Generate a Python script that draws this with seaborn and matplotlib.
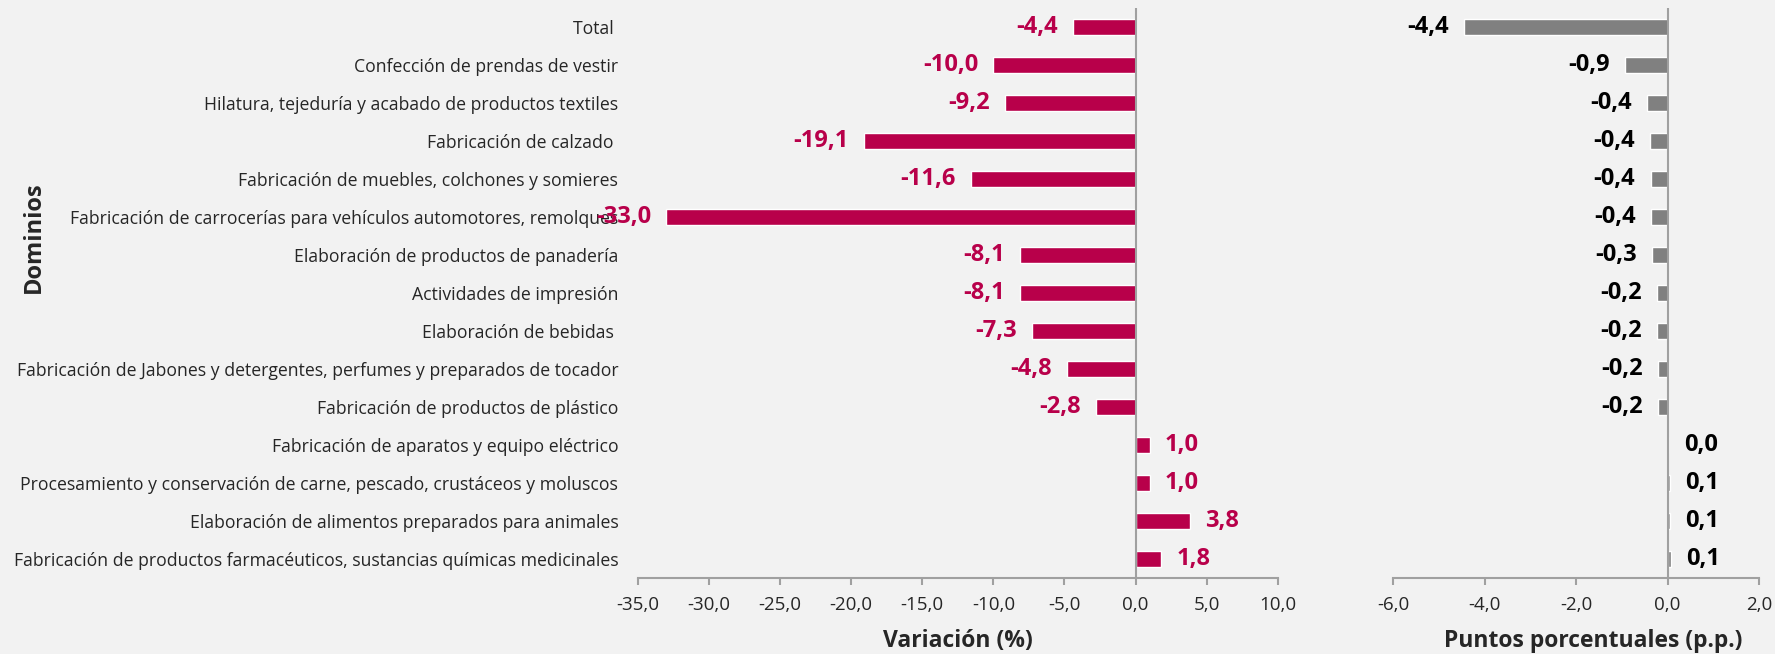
import matplotlib
matplotlib.use("Agg")
import matplotlib.pyplot as plt
import seaborn as sns
import pandas as pd
from matplotlib.ticker import FuncFormatter, MultipleLocator

# Data
dominios = [
    "Total ",
    "Confección de prendas de vestir",
    "Hilatura, tejeduría y acabado de productos textiles",
    "Fabricación de calzado ",
    "Fabricación de muebles, colchones y somieres",
    "Fabricación de carrocerías para vehículos automotores, remolques",
    "Elaboración de productos de panadería",
    "Actividades de impresión",
    "Elaboración de bebidas ",
    "Fabricación de Jabones y detergentes, perfumes y preparados de tocador",
    "Fabricación de productos de plástico",
    "Fabricación de aparatos y equipo eléctrico",
    "Procesamiento y conservación de carne, pescado, crustáceos y moluscos",
    "Elaboración de alimentos preparados para animales",
    "Fabricación de productos farmacéuticos, sustancias químicas medicinales",
]
variacion = [-4.4, -10.0, -9.2, -19.1, -11.6, -33.0, -8.1, -8.1, -7.3, -4.8, -2.8, 1.0, 1.0, 3.8, 1.8]
contribucion = [-4.44, -0.93, -0.44, -0.39, -0.37, -0.36, -0.33, -0.22, -0.22, -0.21, -0.21, 0.02, 0.06, 0.06, 0.07]

sns.set_style("white")
plt.rcParams["font.family"] = ["Open Sans", "DejaVu Sans"]

bg = "#F2F2F2"
crimson = "#B8004A"
grey_bar = "#808080"
axis_grey = "#A0A0A0"

df = pd.DataFrame({"dominio": dominios, "variacion": variacion, "contribucion": contribucion})

fmt = lambda v: f"{v:.1f}".replace(".", ",")

fig = plt.figure(figsize=(17.75, 6.54), dpi=100, facecolor=bg)
ax1 = fig.add_axes([0.3593, 0.1162, 0.3606, 0.8716], facecolor=bg)
ax2 = fig.add_axes([0.7848, 0.1162, 0.2062, 0.8716], facecolor=bg)

# Left: variación %
sns.barplot(data=df, x="variacion", y="dominio", orient="h", color=crimson,
            width=0.4, ax=ax1, saturation=1)
ax1.bar_label(ax1.containers[0], labels=[fmt(v) for v in variacion], padding=11,
              color=crimson, fontweight="bold", fontsize=17)
ax1.set_xlim(-35, 10)
ax1.xaxis.set_major_locator(MultipleLocator(5))

# Right: contribución en p.p.
sns.barplot(data=df, x="contribucion", y="dominio", orient="h", color=grey_bar,
            width=0.4, ax=ax2, saturation=1)
ax2.bar_label(ax2.containers[0], labels=[fmt(v) for v in contribucion], padding=11,
              color="black", fontweight="bold", fontsize=17)
ax2.set_xlim(-6, 2)
ax2.xaxis.set_major_locator(MultipleLocator(2))

for ax in (ax1, ax2):
    ax.set_ylim(14.5, -0.5)
    ax.xaxis.set_major_formatter(FuncFormatter(lambda v, p: fmt(v)))
    for s in ("top", "right", "left"):
        ax.spines[s].set_visible(False)
    ax.spines["bottom"].set_color(axis_grey)
    ax.spines["bottom"].set_linewidth(1.5)
    ax.axvline(0, color=axis_grey, lw=1.5, zorder=3)
    ax.tick_params(axis="x", direction="out", length=5, width=1.5, color=axis_grey,
                   labelsize=13.5, pad=8, bottom=True)
    ax.set_ylabel("")

ax1.tick_params(axis="y", length=0, labelsize=12.7, pad=14)
ax2.set_yticklabels([])
ax2.tick_params(axis="y", length=0)

ax1.set_xlabel("Variación (%)", fontsize=16.5, fontweight="bold")
ax1.xaxis.set_label_coords(0.5, -0.09)
ax2.set_xlabel("Puntos porcentuales (p.p.)", fontsize=16.5, fontweight="bold")
ax2.xaxis.set_label_coords(0.546, -0.09)

fig.text(34 / 1775, 1 - 237 / 654, "Dominios", rotation=90, fontsize=17,
         fontweight="bold", ha="center", va="center")

fig.savefig("out.png", dpi=100, facecolor=bg)
